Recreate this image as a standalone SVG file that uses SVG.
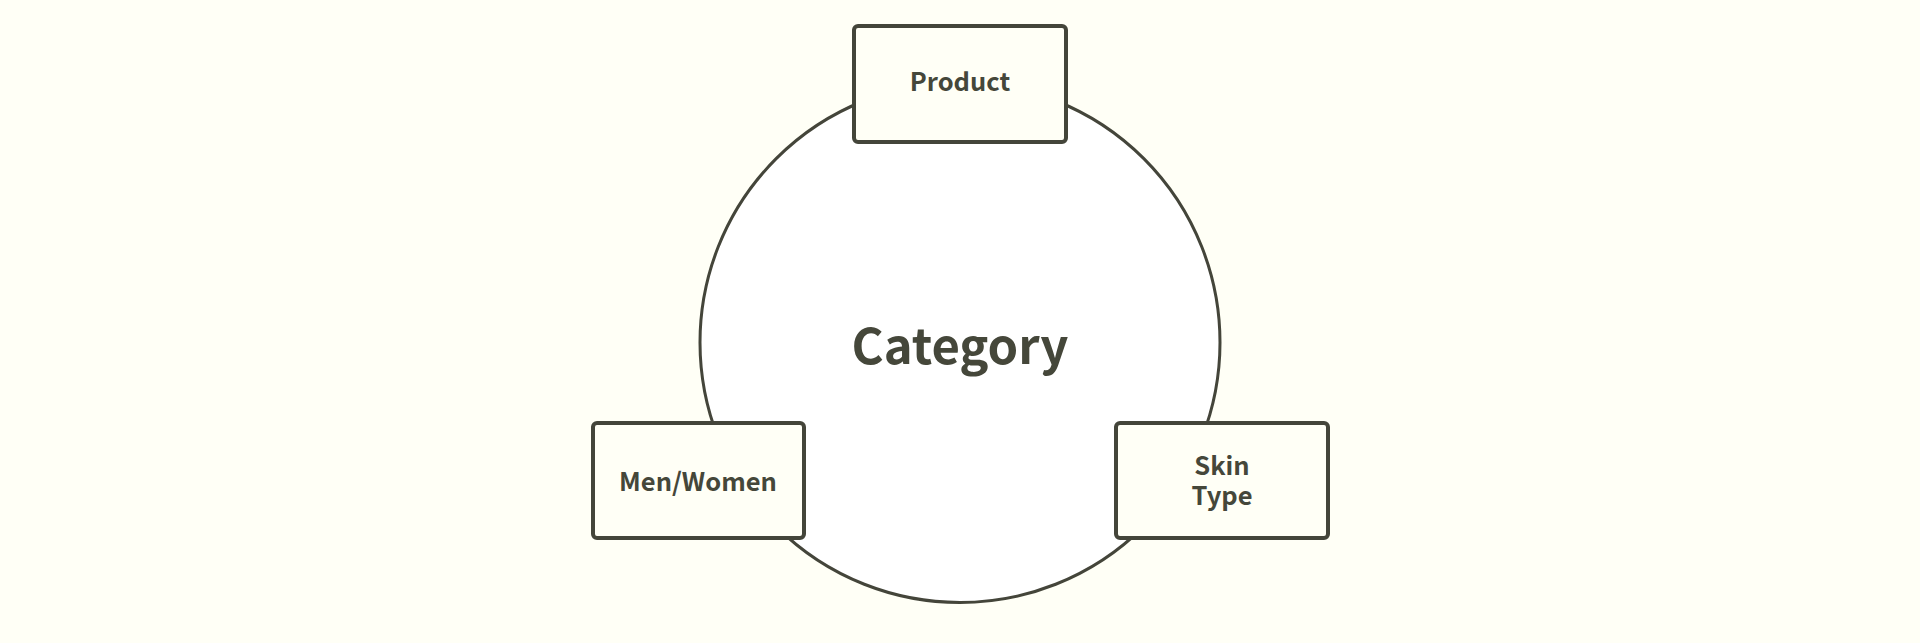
<svg xmlns="http://www.w3.org/2000/svg" width="1920" height="643" viewBox="0 0 1920 643">
<style>
.box{fill:#fffff6;stroke:#44453a;stroke-width:4}
.lbl{font-family:"Noto Sans CJK SC","Noto Sans",sans-serif;font-weight:bold;fill:#45473a;text-anchor:middle}
.s{font-size:25.5px}
</style>
<rect width="1920" height="643" fill="#fffff6"/>
<g id="category">
<circle cx="960" cy="342.5" r="260" fill="#ffffff" stroke="#44453a" stroke-width="3"/>
<text class="lbl" x="960" y="364" font-size="49">Category</text>
</g>
<g id="connectors"></g>
<g id="product">
<rect class="box" x="854" y="26" width="212" height="116" rx="4"/>
<text class="lbl s" x="960" y="91">Product</text>
</g>
<g id="men-women">
<rect class="box" x="593" y="423" width="211" height="115" rx="4"/>
<text class="lbl s" x="698" y="491">Men/Women</text>
</g>
<g id="skin-type">
<rect class="box" x="1116" y="423" width="212" height="115" rx="4"/>
<text class="lbl s" x="1222" y="475">Skin</text>
<text class="lbl s" x="1222" y="505">Type</text>
</g>
</svg>
